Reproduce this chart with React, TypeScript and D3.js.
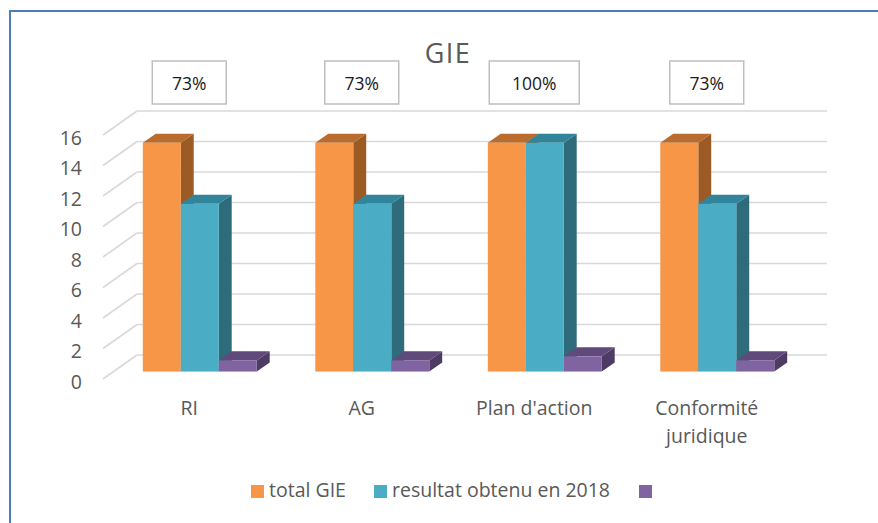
import React from 'react';
import * as d3 from 'd3';

const categories = ['RI', 'AG', "Plan d'action", 'Conformité juridique'];
const seriesNames = ['total GIE', 'resultat obtenu en 2018', ''];
const totalGIE = [15, 15, 15, 15];
const resultat2018 = [11, 11, 15, 11];
const taux = [0.73, 0.73, 1, 0.73];
const yTicks = [0, 2, 4, 6, 8, 10, 12, 14, 16];

const series = [totalGIE, resultat2018, taux];
const colors = [
    { front: '#f79646', top: '#b96c2d', side: '#9c5a25' },
    { front: '#4bacc6', top: '#32849a', side: '#2e6c7b' },
    { front: '#8064a2', top: '#5f4a7b', side: '#4d3b64' },
];

const W = 878;
const H = 523;
const FONT = '"Open Sans", "DejaVu Sans", sans-serif';
const TEXT = '#595959';

// oblique projection of the depth axis
const DX = 34;
const DY = -24;
const D0 = 0.31;
const D1 = 0.69;

const App = () => {
    const x0 = d3.scaleBand<string>().domain(categories).range([103, 793]);
    const x1 = d3.scaleBand<number>()
        .domain(d3.range(series.length))
        .range([0, x0.bandwidth()])
        .paddingOuter(0.77);
    const y = d3.scaleLinear().domain([0, 16]).range([379, 135]);
    const pct = d3.format('.0%');

    const backLeft = 103 + DX;
    const backRight = 793 + DX;

    const legendX = [251, 374, 639];

    return (
        <svg width={W} height={H} style={{ position: 'absolute', left: 0, top: 0, background: '#fff' }}
            fontFamily={FONT}>
            <rect x={10} y={11} width={W + 20} height={H + 20} fill="#fff" stroke="#4a7ebb" strokeWidth={2} />

            <text x={448} y={63} textAnchor="middle" fontSize={27} fill={TEXT} letterSpacing={1.5}>GIE</text>

            {/* walls: back gridlines + left diagonal */}
            <g stroke="#d9d9d9" strokeWidth={1.6} fill="none">
                {yTicks.map(t => (
                    <g key={t}>
                        <line x1={103} y1={y(t)} x2={backLeft} y2={y(t) + DY} />
                        <line x1={backLeft} y1={y(t) + DY} x2={backRight} y2={y(t) + DY} />
                    </g>
                ))}
            </g>

            {yTicks.map(t => (
                <text key={t} x={82} y={y(t) + 2} textAnchor="end" dominantBaseline="central"
                    fontSize={19.5} fill={TEXT}>{t}</text>
            ))}

            {/* 3D bars */}
            {categories.map((c, ci) => (
                <g key={c}>
                    {series.map((s, si) => {
                        const v = s[ci];
                        const fx = x0(c)! + x1(si)! + D0 * DX;
                        const fw = x1.bandwidth();
                        const yb = y(0) + D0 * DY;
                        const yt = y(v) + D0 * DY;
                        const ddx = (D1 - D0) * DX;
                        const ddy = (D1 - D0) * DY;
                        const col = colors[si];
                        const top = `M${fx},${yt}L${fx + ddx},${yt + ddy}L${fx + fw + ddx},${yt + ddy}L${fx + fw},${yt}Z`;
                        const side = `M${fx + fw},${yt}L${fx + fw + ddx},${yt + ddy}L${fx + fw + ddx},${yb + ddy}L${fx + fw},${yb}Z`;
                        return (
                            <g key={si}>
                                <path d={side} fill={col.side} />
                                <path d={top} fill={col.top} />
                                <rect x={fx} y={yt} width={fw} height={yb - yt} fill={col.front} />
                            </g>
                        );
                    })}
                </g>
            ))}

            {/* percentage labels */}
            {categories.map((c, ci) => {
                const label = pct(taux[ci]);
                const cx = x0(c)! + x0.bandwidth() / 2;
                const bw = 26 + 16 * label.length;
                return (
                    <g key={c}>
                        <rect x={cx - bw / 2} y={61} width={bw} height={43} fill="#fff" stroke="#bfbfbf" strokeWidth={1.5} />
                        <text x={cx} y={83} textAnchor="middle" dominantBaseline="central" fontSize={17.5} fill="#1a1a1a">{label}</text>
                    </g>
                );
            })}

            {/* category labels */}
            {categories.map(c => {
                const cx = x0(c)! + x0.bandwidth() / 2;
                const lines = c.length > 14 ? c.split(' ') : [c];
                return (
                    <text key={c} textAnchor="middle" fontSize={19.5} fill={TEXT}>
                        {lines.map((l, i) => (
                            <tspan key={i} x={cx} y={415 + i * 28}>{l}</tspan>
                        ))}
                    </text>
                );
            })}

            {/* legend */}
            {seriesNames.map((n, i) => (
                <g key={i}>
                    <rect x={legendX[i]} y={485} width={13} height={13} fill={colors[i].front} />
                    <text x={legendX[i] + 18} y={497} fontSize={19.5} fill={TEXT}>{n}</text>
                </g>
            ))}
        </svg>
    );
};

export default App;
